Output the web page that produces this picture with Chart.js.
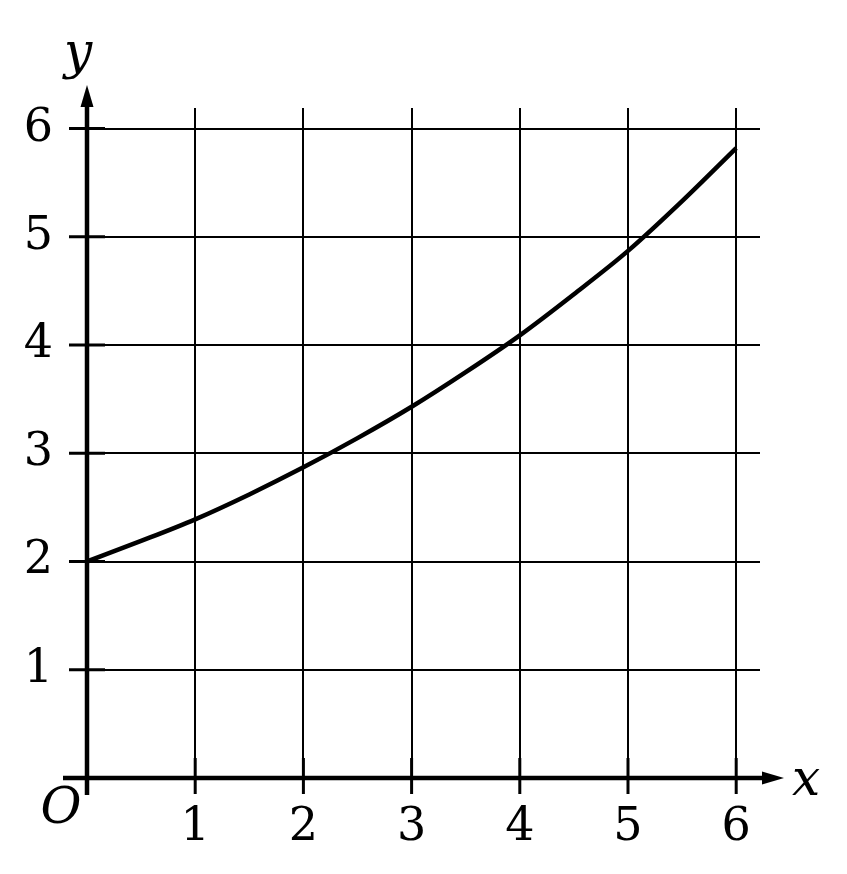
<!DOCTYPE html>
<html lang="en">
<head>
  <meta charset="UTF-8" />
  <title>Curve</title>
  <script src="https://cdn.jsdelivr.net/npm/chart.js"></script>
  <style>
    body {
      margin: 0;
      background: #fff;
    }
    .wrap {
      width: 847px;
      height: 874px;
    }
  </style>
</head>
<body>

<div class="wrap">
  <canvas id="curveChart"></canvas>
</div>

<script>
  // values
  const xValues = [0, 0.5, 1, 1.5, 2, 2.5, 3, 3.5, 4, 4.5, 5, 5.5, 6];
  const yValues = [2.0, 2.19, 2.39, 2.62, 2.87, 3.14, 3.43, 3.75, 4.09, 4.47, 4.87, 5.33, 5.82];
  const xTicks = [1, 2, 3, 4, 5, 6];
  const yTicks = [1, 2, 3, 4, 5, 6];

  const serif = '"DejaVu Serif", serif';

  // axes with arrows, thick ticks and the x / y / O labels
  const axesPlugin = {
    id: 'axes',
    afterDraw(chart) {
      const ctx = chart.ctx;
      const xs = chart.scales.x, ys = chart.scales.y;
      const ox = xs.getPixelForValue(0), oy = ys.getPixelForValue(0);
      const area = chart.chartArea;
      ctx.save();
      ctx.strokeStyle = '#000';
      ctx.fillStyle = '#000';
      ctx.lineCap = 'butt';

      // thick ticks
      ctx.lineWidth = 3;
      yTicks.forEach(v => {
        const py = ys.getPixelForValue(v);
        ctx.beginPath();
        ctx.moveTo(ox - 18, py);
        ctx.lineTo(ox + 18, py);
        ctx.stroke();
      });
      xTicks.forEach(v => {
        const px = xs.getPixelForValue(v);
        ctx.beginPath();
        ctx.moveTo(px, oy - 20);
        ctx.lineTo(px, oy + 16);
        ctx.stroke();
      });

      // axis lines
      ctx.lineWidth = 4.5;
      ctx.beginPath();
      ctx.moveTo(ox, oy + 17);
      ctx.lineTo(ox, area.top - 2);
      ctx.moveTo(ox - 24, oy);
      ctx.lineTo(area.right + 4, oy);
      ctx.stroke();

      // arrow heads
      ctx.beginPath();
      ctx.moveTo(ox, area.top - 23);
      ctx.lineTo(ox - 6.5, area.top - 1);
      ctx.lineTo(ox + 6.5, area.top - 1);
      ctx.closePath();
      ctx.fill();
      ctx.beginPath();
      ctx.moveTo(area.right + 24, oy);
      ctx.lineTo(area.right + 2, oy - 6.5);
      ctx.lineTo(area.right + 2, oy + 6.5);
      ctx.closePath();
      ctx.fill();

      // letters
      ctx.font = 'italic 50px ' + serif;
      ctx.textAlign = 'center';
      ctx.textBaseline = 'alphabetic';
      ctx.fillText('y', ox - 9, 68);
      ctx.fillText('x', area.right + 46, oy + 17);
      ctx.fillText('O', ox - 26, oy + 45);
      ctx.restore();
    }
  };

  const ctx = document.getElementById('curveChart').getContext('2d');
  new Chart(ctx, {
    type: 'scatter',
    data: {
      datasets: [{
        data: xValues.map((x, i) => ({ x: x, y: yValues[i] })),
        showLine: true,
        borderColor: '#000',
        borderWidth: 4.5,
        pointRadius: 0,
        tension: 0.4,
        cubicInterpolationMode: 'monotone'
      }]
    },
    options: {
      responsive: true,
      maintainAspectRatio: false,
      animation: false,
      layout: {
        padding: { top: 108, right: 87, left: 0, bottom: 0 }
      },
      scales: {
        x: {
          min: 0,
          max: 6.22,
          afterFit(scale) { scale.height = 96; },
          border: { display: false },
          grid: { color: '#000', lineWidth: 2, drawTicks: false },
          ticks: {
            stepSize: 1,
            includeBounds: false,
            padding: 22,
            color: '#000',
            font: { family: serif, size: 46 },
            callback: v => (v === 0 ? '' : v)
          }
        },
        y: {
          min: 0,
          max: 6.19,
          afterFit(scale) { scale.width = 87; },
          border: { display: false },
          grid: { color: '#000', lineWidth: 2, drawTicks: false },
          ticks: {
            stepSize: 1,
            includeBounds: false,
            padding: 34,
            color: '#000',
            font: { family: serif, size: 46 },
            callback: v => (v === 0 ? '' : v)
          }
        }
      },
      plugins: {
        legend: { display: false },
        tooltip: { enabled: false }
      }
    },
    plugins: [axesPlugin]
  });
</script>

</body>
</html>
